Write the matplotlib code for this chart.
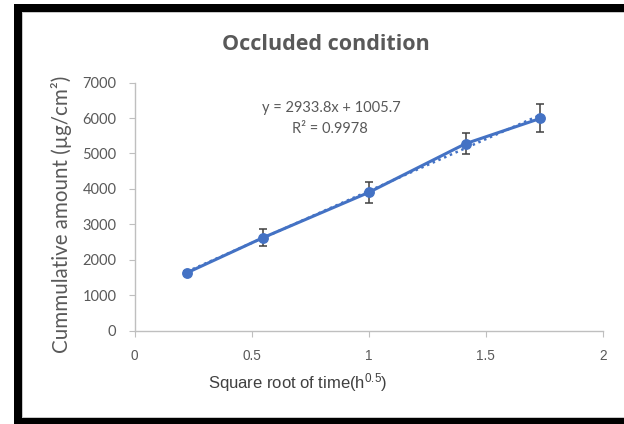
import matplotlib
matplotlib.use("Agg")
import matplotlib.pyplot as plt
from matplotlib.patches import Rectangle
import numpy as np

plt.rcParams["mathtext.fontset"] = "custom"
plt.rcParams["mathtext.rm"] = "Liberation Sans"
plt.rcParams["mathtext.it"] = "Liberation Sans"

# Data
sqrt_time = [0.224, 0.548, 1.0, 1.414, 1.732]
cum_amount = [1630, 2620, 3900, 5280, 5990]
err = [40, 245, 300, 290, 395]
slope = 2933.8
intercept = 1005.7
r2 = 0.9978
title = "Occluded condition"
xticks = [0, 0.5, 1, 1.5, 2]
xtick_labels = ["0", "0.5", "1", "1.5", "2"]
yticks = [0, 1000, 2000, 3000, 4000, 5000, 6000, 7000]

W, H = 624, 424
fig = plt.figure(figsize=(W / 100, H / 100), dpi=100)
fig.patch.set_facecolor("white")

def px(x0, y0, w, h, color):
    fig.patches.append(Rectangle((x0 / W, 1 - (y0 + h) / H), w / W, h / H,
                                 transform=fig.transFigure, facecolor=color,
                                 edgecolor="none", zorder=0))

# black frame (screenshot border)
px(14, 4, 8, 414, "black")
px(14, 4, 610, 8, "black")
px(14, 418, 610, 6, "black")
# light gray chart-area line
px(22, 12, 1.2, 406, "#C8C8C8")
px(22, 12, 602, 1.2, "#C8C8C8")
px(22, 416.5, 602, 1.2, "#C8C8C8")

left, right = 134.5, 603
top, bottom = 82.7, 330.5
ax = fig.add_axes([left / W, 1 - bottom / H, (right - left) / W, (bottom - top) / H])
ax.set_xlim(0, 2)
ax.set_ylim(0, 7000)

blue = "#4472C4"
ax.errorbar(sqrt_time, cum_amount, yerr=err, fmt="none", ecolor="#404040",
            elinewidth=1.1, capsize=3.2, capthick=1.1, zorder=2)
ax.plot(sqrt_time, cum_amount, color=blue, lw=2.2, marker="o", ms=6.8,
        zorder=3, solid_capstyle="round")
xt = np.array([sqrt_time[0], sqrt_time[-1]])
ax.plot(xt, slope * xt + intercept, color=blue, lw=1.8, ls=(0, (1, 1.5)), zorder=2.5)

for s in ["top", "right"]:
    ax.spines[s].set_visible(False)
for s in ["left", "bottom"]:
    ax.spines[s].set_color("#BFBFBF")
    ax.spines[s].set_linewidth(1)

ax.set_yticks(yticks)
ax.set_yticklabels([str(v) for v in yticks], fontfamily="Lato", fontsize=10.5, color="#595959")
ax.set_xticks(xticks)
ax.set_xticklabels(xtick_labels, fontfamily="Liberation Sans", fontsize=9.8, color="#595959")
ax.tick_params(axis="y", direction="out", length=4, color="#BFBFBF", pad=9)
ax.tick_params(axis="x", direction="out", length=4, color="#BFBFBF", pad=9)

fig.text(62 / W, 1 - 214 / H, "Cummulative amount (µg/cm²)", rotation=90,
         ha="center", va="center", fontfamily="Lato", fontsize=14.8, color="#595959")
fig.text(298 / W, 1 - 383 / H, "Square root of time(h$^{0.5}$)", ha="center", va="center",
         fontfamily="Liberation Sans", fontsize=12, color="#404040")

fig.text(326 / W, 1 - 45 / H, title, ha="center", va="center",
         fontfamily="Open Sans", fontweight="bold", fontsize=15.5, color="#595959")

fig.text(331 / W, 1 - 108 / H, f"y = {slope}x + {intercept}", ha="center", va="center",
         fontfamily="Lato", fontsize=10.5, color="#595959")
fig.text(330 / W, 1 - 129 / H, f"R² = {r2}", ha="center", va="center",
         fontfamily="Lato", fontsize=10.5, color="#595959")

fig.savefig("out.png", dpi=100, facecolor="white")
